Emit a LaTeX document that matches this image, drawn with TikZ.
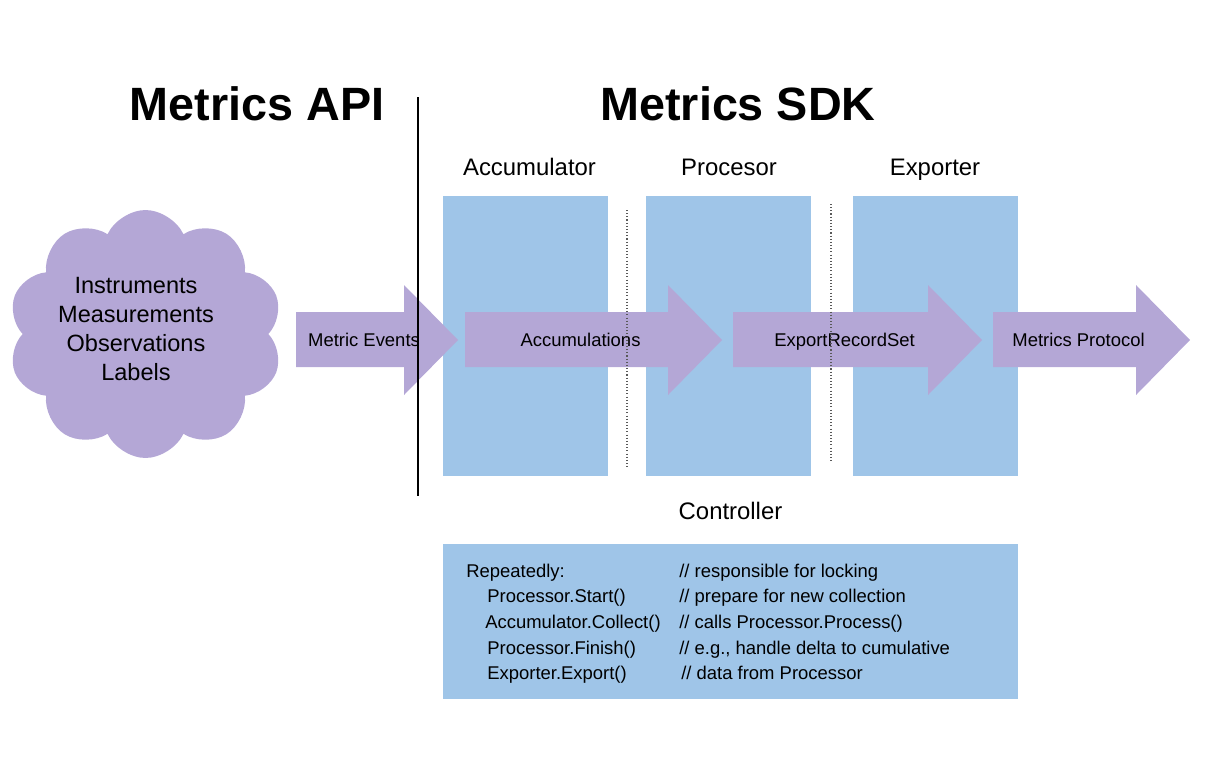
\documentclass[tikz,border=0pt]{standalone}
\usepackage{fontspec}
\setmainfont{Liberation Sans}
\usetikzlibrary{shapes.symbols}

\definecolor{sdkblue}{HTML}{9FC5E8}
\definecolor{flowpurple}{HTML}{B4A7D6}

% block arrow: name, tail x, tip x, label
\newcommand{\flowarrow}[4]{%
  \fill[flowpurple] (#2,312) -- ({#3-54},312) -- ({#3-54},285) -- (#3,340) -- ({#3-54},395) -- ({#3-54},367) -- (#2,367) -- cycle;
  \node[flowtext] (#1) at ({(#2+#3)/2-13},346.5) {#4};
}

\begin{document}
\begin{tikzpicture}[x=0.02cm, y=-0.02cm,
    title/.style={anchor=base, inner sep=0, font=\fontsize{26.6}{32}\selectfont\bfseries},
    stage/.style={anchor=base, inner sep=0, font=\fontsize{13.6}{16.3}\selectfont},
    flowtext/.style={anchor=base, inner sep=0, font=\fontsize{10.5}{12.6}\selectfont},
    sdkbox/.style={fill=sdkblue}]

    \useasboundingbox (0,0) rectangle (1223,761);

    \node[title] (api) at (257,120) {Metrics API};
    \node[title] (sdk) at (738,120) {Metrics SDK};

    \node[stage] (acc label) at (529.5,175.5) {Accumulator};
    \node[stage] (proc label) at (729,175.5) {Procesor};
    \node[stage] (exp label) at (935,175.5) {Exporter};
    \node[stage] (ctrl label) at (730.5,519.5) {Controller};

    \fill[sdkbox] (443,196) rectangle (608,476);
    \fill[sdkbox] (646,196) rectangle (811,476);
    \fill[sdkbox] (853,196) rectangle (1018,476);
    \fill[sdkbox] (443,544) rectangle (1018,699);

    \node[cloud, cloud puffs=10, cloud puff arc=130, aspect=1.1, fill=flowpurple, minimum width=5.5cm, minimum height=4.96cm, inner sep=0] (cloud) at (145.5,334) {};
    \node[align=center, inner sep=0, font=\fontsize{13.4}{16.5}\selectfont] (sources) at (136,329) {Instruments\\Measurements\\Observations\\Labels};

    \flowarrow{events}{296}{458}{Metric Events}
    \flowarrow{accum}{465}{722}{Accumulations}
    \flowarrow{records}{733}{982}{ExportRecordSet}
    \flowarrow{protocol}{993}{1190}{Metrics Protocol}

    \draw[black, line width=0.7pt] (418,97) -- (418,496);
    \draw[black!65, line width=0.6pt, dash pattern=on 0.6pt off 1.2pt] (627,210) -- (627,467);
    \draw[black!65, line width=0.6pt, dash pattern=on 0.6pt off 1.2pt] (831,204) -- (831,461);

    \node[anchor=base west, inner sep=0, font=\fontsize{10.5}{14.65}\selectfont] (steps) at (466,577) {%
      \begin{tabular}[t]{@{}p{4.26cm}@{}l@{}}
        Repeatedly: & // responsible for locking\\
        \hspace{0.42cm}Processor.Start() & // prepare for new collection\\
        \hspace{0.38cm}Accumulator.Collect() & // calls Processor.Process()\\
        \hspace{0.42cm}Processor.Finish() & // e.g., handle delta to cumulative\\
        \hspace{0.42cm}Exporter.Export() & \hspace{0.04cm}// data from Processor
      \end{tabular}};

\end{tikzpicture}
\end{document}
